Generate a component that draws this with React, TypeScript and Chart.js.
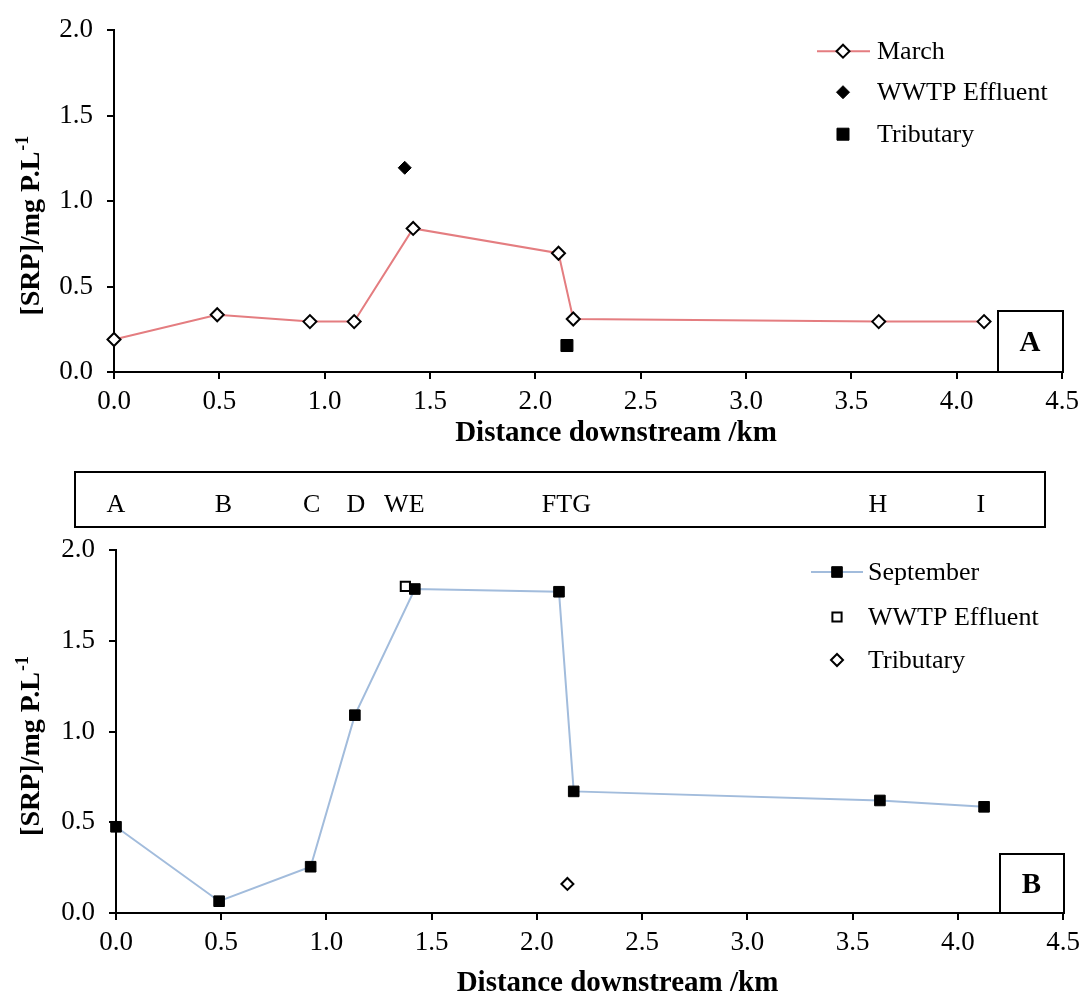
import React, { useEffect, useRef } from 'react';
import { Chart, registerables } from 'chart.js';
import { drawPoint } from 'chart.js/helpers';

Chart.register(...registerables);

const FONT = "'Liberation Serif', 'Times New Roman', serif";

// Site labels along the river (distance in km)
const siteNames = ['A', 'B', 'C', 'D', 'WE', 'FTG', 'H', 'I'];
const siteDist = [0, 0.51, 0.93, 1.14, 1.37, 2.14, 3.62, 4.11];

// March
const marchDist = [0, 0.49, 0.93, 1.14, 1.42, 2.11, 2.18, 3.63, 4.13];
const marchSRP = [0.19, 0.335, 0.295, 0.295, 0.84, 0.695, 0.31, 0.295, 0.295];
const marchWwtpDist = [1.38];
const marchWwtpSRP = [1.195];
const marchTribDist = [2.15];
const marchTribSRP = [0.155];

// September
const sepDist = [0, 0.49, 0.925, 1.135, 1.42, 2.105, 2.175, 3.63, 4.125];
const sepSRP = [0.475, 0.065, 0.255, 1.09, 1.785, 1.77, 0.67, 0.62, 0.585];
const sepWwtpDist = [1.375];
const sepWwtpSRP = [1.8];
const sepTribDist = [2.145];
const sepTribSRP = [0.16];

const xTitle = 'Distance downstream /km';
const yTitleMain = '[SRP]/mg P.L';
const yTitleSup = '-1';

const pts = (xs: number[], ys: number[]) => xs.map((x, i) => ({ x, y: ys[i] }));

type PanelOpts = {
  datasets: any[];
  legend: { lineX0: number; lineX1: number; markX: number; textX: number; rows: number[] };
  letter: string;
  letterBox: { dl: number; dt: number };
  yAxisWidth: number;
  padding: { top: number; right: number; bottom: number; left: number };
  xAxisHeight: number;
  yTitleDy: number;
  xTitleDy: number;
  sites?: boolean;
};

function makeConfig(o: PanelOpts): any {
  const plugin = {
    id: 'extras',
    afterDraw(chart: any) {
      const ctx = chart.ctx as CanvasRenderingContext2D;
      const ca = chart.chartArea;
      const xs = chart.scales.x;
      ctx.save();
      // y-axis title with superscript
      ctx.fillStyle = '#000';
      ctx.font = `bold 28px ${FONT}`;
      const wMain = ctx.measureText(yTitleMain).width;
      ctx.font = `bold 18px ${FONT}`;
      const wSup = ctx.measureText(yTitleSup).width;
      const total = wMain + wSup;
      const cy = (ca.top + ca.bottom) / 2 + o.yTitleDy;
      ctx.translate(39, cy);
      ctx.rotate(-Math.PI / 2);
      ctx.textAlign = 'left';
      ctx.textBaseline = 'alphabetic';
      ctx.font = `bold 28px ${FONT}`;
      ctx.fillText(yTitleMain, -total / 2, 0);
      ctx.font = `bold 18px ${FONT}`;
      ctx.fillText(yTitleSup, -total / 2 + wMain + 1, -11);
      ctx.restore();

      // x-axis title
      ctx.save();
      ctx.fillStyle = '#000';
      ctx.font = `bold 29px ${FONT}`;
      ctx.textAlign = 'center';
      ctx.textBaseline = 'middle';
      ctx.fillText(xTitle, (ca.left + ca.right) / 2 + 28, ca.bottom + o.xTitleDy);
      ctx.restore();

      // legend
      ctx.save();
      o.datasets.forEach((ds: any, i: number) => {
        const y = ca.top + o.legend.rows[i];
        if (ds.showLine) {
          ctx.strokeStyle = ds.borderColor;
          ctx.lineWidth = ds.borderWidth;
          ctx.beginPath();
          ctx.moveTo(ca.right + o.legend.lineX0, y);
          ctx.lineTo(ca.right + o.legend.lineX1, y);
          ctx.stroke();
        }
        ctx.fillStyle = ds.pointBackgroundColor;
        ctx.strokeStyle = ds.pointBorderColor;
        ctx.lineWidth = ds.pointBorderWidth;
        drawPoint(ctx, { pointStyle: ds.pointStyle, radius: ds.pointRadius, rotation: 0, borderWidth: ds.pointBorderWidth } as any, ca.right + o.legend.markX, y);
        ctx.fillStyle = '#000';
        ctx.font = `26px ${FONT}`;
        ctx.textAlign = 'left';
        ctx.textBaseline = 'middle';
        ctx.fillText(ds.label, ca.right + o.legend.textX, y + 1);
      });
      ctx.restore();

      // panel letter box
      ctx.save();
      const bl = ca.right + o.letterBox.dl;
      const bt = ca.bottom + o.letterBox.dt;
      ctx.strokeStyle = '#000';
      ctx.lineWidth = 2;
      ctx.strokeRect(bl, bt, ca.right + 1 - bl, ca.bottom - bt);
      ctx.fillStyle = '#000';
      ctx.font = `bold 29px ${FONT}`;
      ctx.textAlign = 'center';
      ctx.textBaseline = 'middle';
      ctx.fillText(o.letter, (bl + ca.right) / 2, (bt + ca.bottom) / 2 + 2);
      ctx.restore();

      // site label box
      if (o.sites) {
        ctx.save();
        ctx.strokeStyle = '#000';
        ctx.lineWidth = 2;
        ctx.strokeRect(ca.left - 41, ca.top - 78, ca.right - 18 - (ca.left - 41), 55);
        ctx.fillStyle = '#000';
        ctx.font = `26px ${FONT}`;
        ctx.textAlign = 'center';
        ctx.textBaseline = 'middle';
        siteNames.forEach((n, i) => {
          ctx.fillText(n, xs.getPixelForValue(siteDist[i]), ca.top - 45);
        });
        ctx.restore();
      }
    },
  };

  return {
    type: 'scatter',
    data: { datasets: o.datasets },
    options: {
      animation: false,
      responsive: false,
      layout: { padding: o.padding },
      plugins: { legend: { display: false }, tooltip: { enabled: false } },
      scales: {
        x: {
          type: 'linear',
          min: 0,
          max: 4.5,
          afterFit: (s: any) => { s.height = o.xAxisHeight; },
          ticks: {
            stepSize: 0.5,
            padding: 7,
            color: '#000',
            font: { family: FONT, size: 27 },
            maxRotation: 0,
            callback: (v: any) => Number(v).toFixed(1),
          },
          grid: { drawOnChartArea: false, drawTicks: true, tickLength: 7, color: '#000', lineWidth: 2 },
          border: { display: true, color: '#000', width: 2 },
          title: { display: false },
        },
        y: {
          type: 'linear',
          min: 0,
          max: 2,
          afterFit: (s: any) => { s.width = o.yAxisWidth; },
          ticks: {
            stepSize: 0.5,
            padding: 14,
            color: '#000',
            font: { family: FONT, size: 27 },
            callback: (v: any) => Number(v).toFixed(1),
          },
          grid: { drawOnChartArea: false, drawTicks: true, tickLength: 7, color: '#000', lineWidth: 2 },
          border: { display: true, color: '#000', width: 2 },
        },
      },
    },
    plugins: [plugin],
  };
}

function Panel({ height, config }: { height: number; config: any }) {
  const ref = useRef<HTMLCanvasElement | null>(null);
  useEffect(() => {
    if (!ref.current) return;
    const c = new Chart(ref.current, config);
    return () => c.destroy();
  }, []);
  return <canvas ref={ref} width={1088} height={height} style={{ display: 'block', width: 1088, height }} />;
}

export default function App() {
  const marchLine = '#E47D80';
  const sepLine = '#A2BCDC';
  const topCfg = makeConfig({
    datasets: [
      {
        label: 'March', data: pts(marchDist, marchSRP), showLine: true, clip: false,
        borderColor: marchLine, borderWidth: 2,
        pointStyle: 'rectRot', pointRadius: 6.5, pointBackgroundColor: '#fff', pointBorderColor: '#000', pointBorderWidth: 2,
      },
      {
        label: 'WWTP Effluent', data: pts(marchWwtpDist, marchWwtpSRP), showLine: false, clip: false,
        pointStyle: 'rectRot', pointRadius: 6.5, pointBackgroundColor: '#000', pointBorderColor: '#000', pointBorderWidth: 1,
      },
      {
        label: 'Tributary', data: pts(marchTribDist, marchTribSRP), showLine: false, clip: false,
        pointStyle: 'rect', pointRadius: 8.5, pointBackgroundColor: '#000', pointBorderColor: '#000', pointBorderWidth: 1,
      },
    ],
    legend: { lineX0: -245, lineX1: -192, markX: -219, textX: -185, rows: [21, 62, 104] },
    letter: 'A',
    letterBox: { dl: -64, dt: -61 },
    yAxisWidth: 114,
    padding: { top: 21, right: 26, bottom: 8, left: 0 },
    xAxisHeight: 80,
    yTitleDy: 25,
    xTitleDy: 62,
  });
  const botCfg = makeConfig({
    datasets: [
      {
        label: 'September', data: pts(sepDist, sepSRP), showLine: true, clip: false,
        borderColor: sepLine, borderWidth: 2,
        pointStyle: 'rect', pointRadius: 7.5, pointBackgroundColor: '#000', pointBorderColor: '#000', pointBorderWidth: 1,
      },
      {
        label: 'WWTP Effluent', data: pts(sepWwtpDist, sepWwtpSRP), showLine: false, clip: false,
        pointStyle: 'rect', pointRadius: 6.5, pointBackgroundColor: '#fff', pointBorderColor: '#000', pointBorderWidth: 2,
      },
      {
        label: 'Tributary', data: pts(sepTribDist, sepTribSRP), showLine: false, clip: false,
        pointStyle: 'rectRot', pointRadius: 6, pointBackgroundColor: '#fff', pointBorderColor: '#000', pointBorderWidth: 2,
      },
    ],
    legend: { lineX0: -252, lineX1: -200, markX: -226, textX: -195, rows: [22, 67, 110] },
    letter: 'B',
    letterBox: { dl: -63, dt: -59 },
    yAxisWidth: 116,
    padding: { top: 90, right: 25, bottom: 0, left: 0 },
    xAxisHeight: 87,
    yTitleDy: 15,
    xTitleDy: 71,
    sites: true,
  });
  return (
    <div style={{ position: 'absolute', left: 0, top: 0, width: 1088, height: 1000, background: '#fff' }}>
      <Panel height={460} config={topCfg} />
      <Panel height={540} config={botCfg} />
    </div>
  );
}
